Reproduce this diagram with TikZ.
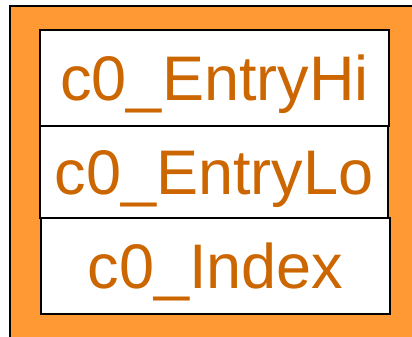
\documentclass[tikz,border=0pt]{standalone}
\usepackage{fontspec}
\setmainfont{Liberation Sans}
\definecolor{outerorange}{HTML}{FF9933}
\definecolor{textorange}{HTML}{CC6600}
\begin{document}
\begin{tikzpicture}[x=1pt,y=1pt,
  regbox/.style={draw=black, line width=1.3pt, fill=white, inner sep=0pt,
    font=\fontsize{63}{63}\selectfont, text=textorange,
    text height=45pt, text depth=0pt}]
\useasboundingbox (0,0) rectangle (412,337);
\fill[white] (0,0) rectangle (412,337);
\draw[line width=1.2pt, fill=outerorange] (10,331) rectangle (425,-10);
\node[regbox, minimum width=349pt, minimum height=96pt] (hi) at (214.5,259) {c0\_EntryHi};
\node[regbox, minimum width=348pt, minimum height=92pt] (lo) at (214,165) {c0\_EntryLo};
\node[regbox, minimum width=349pt, minimum height=96pt] (idx) at (215.5,71) {c0\_Index};
\end{tikzpicture}
\end{document}
